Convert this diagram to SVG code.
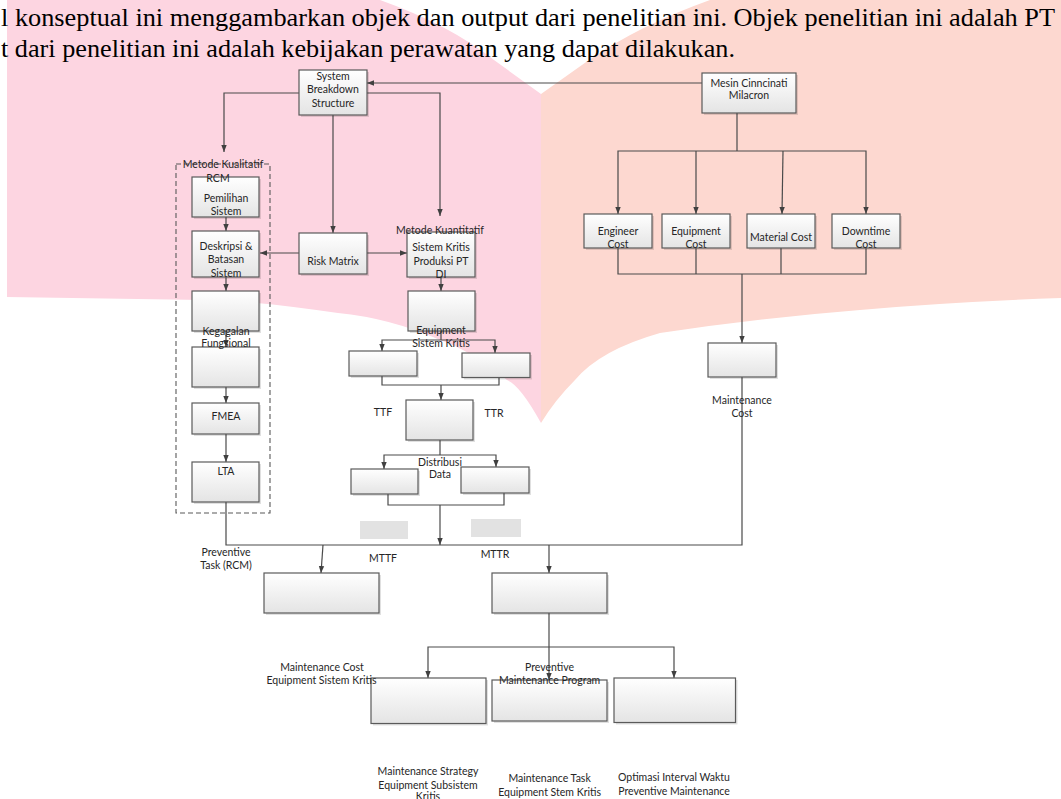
<svg xmlns="http://www.w3.org/2000/svg" width="1061" height="799" viewBox="0 0 1061 799">
<defs>
<linearGradient id="bx" x1="0" y1="0" x2="0" y2="1"><stop offset="0" stop-color="#ffffff"/><stop offset="1" stop-color="#e4e4e4"/></linearGradient>
<marker id="ar" markerUnits="userSpaceOnUse" markerWidth="8" markerHeight="7" refX="7" refY="3.5" orient="auto"><path d="M0,0.8 L7,3.5 L0,6.2 z" fill="#404040"/></marker>
<style>
.box{fill:url(#bx);stroke:#5a5a5a;stroke-width:1.2}
.sh{fill:#000;opacity:0.12}
.ln{fill:none;stroke:#4a4a4a;stroke-width:1.2}
.ar{marker-end:url(#ar)}
.t{font-family:Lato,"Liberation Sans",sans-serif;font-size:10.5px;fill:#262626;text-anchor:middle}
.tl{font-family:"Liberation Serif",serif;font-size:26px;fill:#000}
.gr{fill:#e2e2e2}
</style>
</defs>
<rect width="1061" height="799" fill="#ffffff"/>
<g id="watermark">
<path d="M7,0 L380,0 Q450,25 494,60 L541,94 L541,423 Q520,385 507,380 Q470,350 440,340 Q390,318 338,313 Q250,300 203,300 L7,297 Z" fill="#fdd5e1"/>
<path d="M541,94 L589,60 Q640,25 710,0 L1061,0 L1061,298 Q950,302 860,310 Q760,318 660,333 Q600,350 575,380 Q555,400 541,423 Z" fill="#fdd8d0"/>
</g>
<g id="intro">
<text class="tl" x="1" y="26" textLength="1054" lengthAdjust="spacingAndGlyphs">l konseptual ini menggambarkan objek dan output dari penelitian ini. Objek penelitian ini adalah PT</text>
<text class="tl" x="1" y="57" textLength="734" lengthAdjust="spacingAndGlyphs">t dari penelitian ini adalah kebijakan perawatan yang dapat dilakukan.</text>
</g>
<g id="connectors">
<path class="ln ar" d="M702,83 L367,83"/>
<path class="ln ar" d="M299,93 L224,93 L224,152"/>
<path class="ln ar" d="M367,93 L440,93 L440,216"/>
<path class="ln ar" d="M333,115 L333,233"/>
<path class="ln ar" d="M299,253 L260,253"/>
<path class="ln ar" d="M367,253 L407,253"/>
<path class="ln ar" d="M226,217 L226,231"/>
<path class="ln ar" d="M226,277 L226,291"/>
<path class="ln ar" d="M226,331 L226,347"/>
<path class="ln ar" d="M226,387 L226,403"/>
<path class="ln ar" d="M226,434 L226,462"/>
<path class="ln" d="M226,502 L226,545 L742,545 L742,377"/>
<path class="ln ar" d="M441,277 L441,291"/>
<path class="ln" d="M441,331 L441,340"/>
<path class="ln ar" d="M441,340 L382,340 L382,351"/>
<path class="ln ar" d="M441,340 L495,340 L495,353"/>
<path class="ln" d="M382,376 L382,385 L499,385 L499,377"/>
<path class="ln ar" d="M441,385 L441,400"/>
<path class="ln" d="M440,440 L440,455"/>
<path class="ln ar" d="M440,455 L384,455 L384,469"/>
<path class="ln ar" d="M440,455 L496,455 L496,467"/>
<path class="ln" d="M388,494 L388,505 L504,505 L504,493"/>
<path class="ln ar" d="M440,505 L440,545"/>
<path class="ln ar" d="M323,545 L321,573"/>
<path class="ln ar" d="M549,545 L549,573"/>
<path class="ln" d="M549,613 L549,647"/>
<path class="ln ar" d="M549,647 L428,647 L428,678"/>
<path class="ln ar" d="M549,647 L674,647 L674,678"/>
<path class="ln ar" d="M549,647 L549,680"/>
<path class="ln" d="M737,113 L737,151"/>
<path class="ln ar" d="M737,151 L618,151 L618,214"/>
<path class="ln ar" d="M737,151 L866,151 L866,214"/>
<path class="ln ar" d="M696,151 L696,214"/>
<path class="ln ar" d="M783,151 L782,214"/>
<path class="ln" d="M618,248 L618,274 L866,274 L866,248"/>
<path class="ln" d="M696,248 L696,274"/>
<path class="ln" d="M781,248 L781,274"/>
<path class="ln ar" d="M742,274 L742,343"/>
</g>
<g id="sbs"><rect class="sh" x="301" y="72" width="68" height="45"/><rect class="box" x="299" y="70" width="68" height="45"/>
<text class="t" x="333" y="80">System</text><text class="t" x="333" y="93">Breakdown</text><text class="t" x="333" y="106.5">Structure</text></g>
<g id="mesin"><rect class="sh" x="704" y="75" width="94" height="40"/><rect class="box" x="702" y="73" width="94" height="40"/>
<text class="t" x="749" y="86.5">Mesin Cinncinati</text><text class="t" x="749" y="98.5">Milacron</text></g>
<g id="risk"><rect class="sh" x="301" y="235" width="68" height="41"/><rect class="box" x="299" y="233" width="68" height="41"/>
<text class="t" x="333" y="264.5">Risk Matrix</text></g>
<g id="pemilihan"><rect class="sh" x="194" y="179" width="67" height="40"/><rect class="box" x="192" y="177" width="67" height="40"/>
<text class="t" x="226" y="201.5">Pemilihan</text><text class="t" x="226" y="214.5">Sistem</text></g>
<g id="kualitatif"><rect x="176" y="164" width="94" height="349" fill="none" stroke="#595959" stroke-width="1.1" stroke-dasharray="5,3"/>
<text class="t" x="223" y="167.8">Metode Kualitatif</text><text class="t" x="218" y="182">RCM</text></g>
<g id="deskripsi"><rect class="sh" x="194" y="233" width="67" height="46"/><rect class="box" x="192" y="231" width="67" height="46"/>
<text class="t" x="226" y="249.5">Deskripsi &amp;</text><text class="t" x="226" y="263">Batasan</text><text class="t" x="226" y="276.5">Sistem</text></g>
<g id="box5"><rect class="sh" x="194" y="349" width="67" height="40"/><rect class="box" x="192" y="347" width="67" height="40"/></g>
<g id="kegagalan"><rect class="sh" x="194" y="293" width="67" height="40"/><rect class="box" x="192" y="291" width="67" height="40"/>
<text class="t" x="226" y="334.5">Kegagalan</text><text class="t" x="226" y="347">Fungsional</text></g>
<g id="fmea"><rect class="sh" x="194" y="405" width="67" height="31"/><rect class="box" x="192" y="403" width="67" height="31"/>
<text class="t" x="226" y="419.5">FMEA</text></g>
<g id="lta"><rect class="sh" x="194" y="464" width="67" height="40"/><rect class="box" x="192" y="462" width="67" height="40"/>
<text class="t" x="226" y="474.8">LTA</text></g>
<g id="sistemkritis"><rect class="sh" x="409" y="234" width="68" height="45"/><rect class="box" x="407" y="232" width="68" height="45"/>
<text class="t" x="440" y="233.8">Metode Kuantitatif</text>
<text class="t" x="441" y="250.5">Sistem Kritis</text><text class="t" x="441" y="264.5">Produksi PT</text><text class="t" x="441" y="278">DI</text></g>
<g id="equipment"><rect class="sh" x="410" y="293" width="67" height="40"/><rect class="box" x="408" y="291" width="67" height="40"/>
<text class="t" x="441" y="333.8">Equipment</text><text class="t" x="441" y="347">Sistem Kritis</text></g>
<g id="ttf-left"><rect class="sh" x="351" y="353" width="68" height="25"/><rect class="box" x="349" y="351" width="68" height="25"/></g>
<g id="ttr-right"><rect class="sh" x="464" y="355" width="68" height="24.5"/><rect class="box" x="462" y="353" width="68" height="24.5"/></g>
<g id="ttfttr"><rect class="sh" x="408" y="402" width="67" height="40"/><rect class="box" x="406" y="400" width="67" height="40"/>
<text class="t" x="383" y="415.5">TTF</text><text class="t" x="494" y="417">TTR</text></g>
<g id="dist-left"><rect class="sh" x="353" y="471" width="67" height="25"/><rect class="box" x="351" y="469" width="67" height="25"/></g>
<g id="dist-right"><rect class="sh" x="463" y="469" width="68" height="26"/><rect class="box" x="461" y="467" width="68" height="26"/>
</g>
<g id="distribusi"><text class="t" x="440" y="466">Distribusi</text><text class="t" x="440" y="478">Data</text></g>
<g id="mttf"><rect class="gr" x="360" y="521" width="48" height="18"/><text class="t" x="383" y="561.5">MTTF</text></g>
<g id="mttr"><rect class="gr" x="471" y="519" width="50" height="18"/><text class="t" x="495" y="558">MTTR</text></g>
<g id="preventive-task"><text class="t" x="226" y="555.5">Preventive</text><text class="t" x="226" y="568.8">Task (RCM)</text></g>
<g id="strategy"><rect class="sh" x="373" y="680" width="115" height="45.5"/><rect class="box" x="371" y="678" width="115" height="45.5"/>
<text class="t" x="428" y="775">Maintenance Strategy</text><text class="t" x="428" y="789">Equipment Subsistem</text><text class="t" x="428" y="800">Kritis</text></g>
<g id="task"><rect class="sh" x="494" y="682" width="115" height="41"/><rect class="box" x="492" y="680" width="115" height="41"/>
<text class="t" x="549.6" y="781.5">Maintenance Task</text><text class="t" x="549.6" y="795.5">Equipment Stem Kritis</text></g>
<g id="optimasi"><rect class="sh" x="616" y="680" width="121.5" height="44.5"/><rect class="box" x="614" y="678" width="121.5" height="44.5"/>
<text class="t" x="674" y="780.5">Optimasi Interval Waktu</text><text class="t" x="674" y="794.5">Preventive Maintenance</text></g>
<g id="mc-equip"><rect class="sh" x="266" y="575" width="115" height="40"/><rect class="box" x="264" y="573" width="115" height="40"/>
<text class="t" x="322" y="670.5">Maintenance Cost</text><text class="t" x="321.5" y="684">Equipment Sistem Kritis</text></g>
<g id="pm-program"><rect class="sh" x="494" y="575" width="115" height="40"/><rect class="box" x="492" y="573" width="115" height="40"/>
<text class="t" x="549.6" y="670.5">Preventive</text><text class="t" x="549.6" y="684">Maintenance Program</text></g>
<g id="engineer"><rect class="sh" x="586" y="216" width="68" height="34"/><rect class="box" x="584" y="214" width="68" height="34"/>
<text class="t" x="618" y="234.5">Engineer</text><text class="t" x="618" y="248">Cost</text></g>
<g id="equipcost"><rect class="sh" x="664" y="216" width="68" height="34"/><rect class="box" x="662" y="214" width="68" height="34"/>
<text class="t" x="696" y="234.5">Equipment</text><text class="t" x="696" y="248">Cost</text></g>
<g id="material"><rect class="sh" x="749" y="216" width="68" height="34"/><rect class="box" x="747" y="214" width="68" height="34"/>
<text class="t" x="781" y="240.5">Material Cost</text></g>
<g id="downtime"><rect class="sh" x="834" y="216" width="68" height="34"/><rect class="box" x="832" y="214" width="68" height="34"/>
<text class="t" x="866" y="234.5">Downtime</text><text class="t" x="866" y="248">Cost</text></g>
<g id="maintcost"><rect class="sh" x="710" y="345" width="68" height="34"/><rect class="box" x="708" y="343" width="68" height="34"/>
<text class="t" x="742" y="404">Maintenance</text><text class="t" x="742" y="417">Cost</text></g>
</svg>
